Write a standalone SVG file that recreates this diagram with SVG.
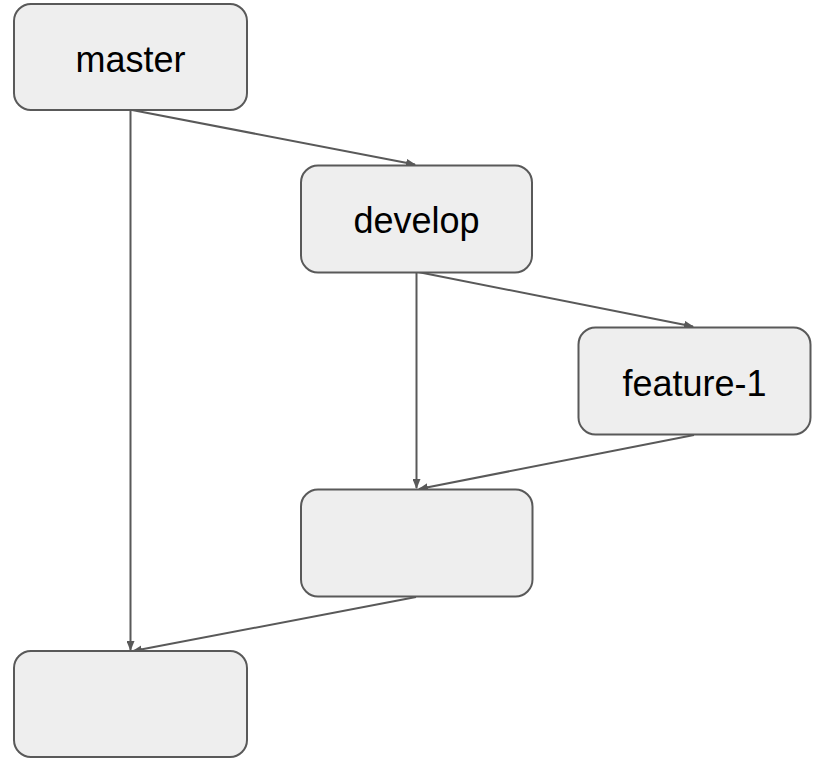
<svg xmlns="http://www.w3.org/2000/svg" width="815" height="758" viewBox="0 0 815 758">
<style>
.box{fill:#eeeeee;stroke:#595959;stroke-width:2}
.lbl{font-family:"Liberation Sans",Arial,sans-serif;font-size:36px;fill:#000;text-anchor:middle}
.edge{stroke:#595959;stroke-width:2;fill:none;marker-end:url(#arr)}
</style>
<defs>
<marker id="arr" markerWidth="10" markerHeight="8" refX="9" refY="4" orient="auto" markerUnits="userSpaceOnUse">
<path d="M0,0 L10,4 L0,8 Z" fill="#595959"/>
</marker>
</defs>
<rect width="815" height="758" fill="#fff"/>
<g id="edges">
<line class="edge" x1="130.5" y1="110" x2="130.5" y2="650"/>
<line class="edge" x1="132" y1="110" x2="415" y2="164.5"/>
<line class="edge" x1="416.5" y1="272" x2="416.5" y2="488"/>
<line class="edge" x1="418" y1="272" x2="693" y2="326.5"/>
<line class="edge" x1="694" y1="435" x2="419" y2="489"/>
<line class="edge" x1="416" y1="597" x2="133" y2="651"/>
</g>
<g id="master">
<rect class="box" x="14" y="4" width="233" height="106" rx="17"/>
<text class="lbl" x="130.5" y="72">master</text>
</g>
<g id="develop">
<rect class="box" x="301" y="165.5" width="231" height="107" rx="17"/>
<text class="lbl" x="416.5" y="232.5">develop</text>
</g>
<g id="feature-1">
<rect class="box" x="578.5" y="327.5" width="232" height="107" rx="17"/>
<text class="lbl" x="694.5" y="396">feature-1</text>
</g>
<g id="merge-develop">
<rect class="box" x="301" y="489.5" width="231.5" height="107" rx="17"/>
</g>
<g id="merge-master">
<rect class="box" x="14" y="651" width="233" height="106" rx="17"/>
</g>
</svg>
